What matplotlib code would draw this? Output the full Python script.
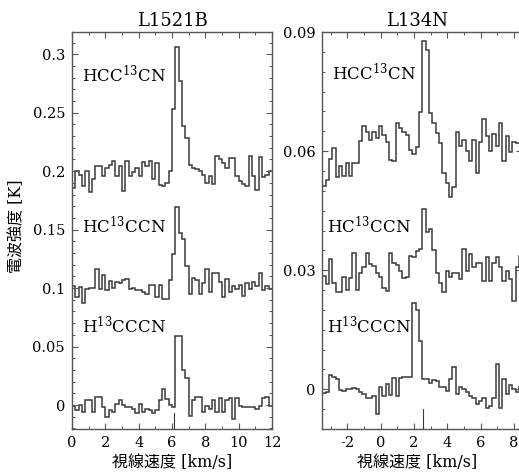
import numpy as np
import matplotlib
matplotlib.use("Agg")
import matplotlib.pyplot as plt
from matplotlib.ticker import FixedLocator, MultipleLocator

plt.rcParams['font.family'] = ['DejaVu Serif', 'Noto Sans CJK JP']
plt.rcParams['mathtext.fontset'] = 'dejavuserif'
plt.rcParams['axes.unicode_minus'] = False

# ---------------- data ----------------
# L1521B : channel edges start at 0 km/s, 0.2 km/s channels
l1521b_v0 = 0.0
l1521b_dv = 0.2
l1521b_hcc13cn = [0.186, 0.200, 0.197, 0.187, 0.200, 0.182, 0.193, 0.204, 0.204, 0.196,
                  0.203, 0.205, 0.209, 0.196, 0.204, 0.183, 0.209, 0.196, 0.199, 0.203,
                  0.196, 0.208, 0.204, 0.209, 0.193, 0.207, 0.188, 0.187, 0.190, 0.200,
                  0.253, 0.306, 0.277, 0.239, 0.228, 0.205, 0.203, 0.202, 0.200, 0.197,
                  0.190, 0.196, 0.189, 0.213, 0.210, 0.207, 0.203, 0.211, 0.211, 0.196,
                  0.192, 0.189, 0.187, 0.213, 0.196, 0.184, 0.212, 0.195, 0.197, 0.200]
l1521b_hc13ccn = [0.102, 0.092, 0.101, 0.087, 0.099, 0.100, 0.100, 0.116, 0.099, 0.111,
                  0.098, 0.106, 0.100, 0.105, 0.104, 0.107, 0.108, 0.099, 0.100, 0.098,
                  0.098, 0.097, 0.095, 0.103, 0.103, 0.092, 0.103, 0.091, 0.091, 0.107,
                  0.129, 0.169, 0.147, 0.142, 0.119, 0.095, 0.109, 0.107, 0.095, 0.104,
                  0.116, 0.097, 0.113, 0.113, 0.105, 0.092, 0.108, 0.097, 0.102, 0.099,
                  0.103, 0.093, 0.104, 0.099, 0.105, 0.102, 0.113, 0.098, 0.102, 0.099]
l1521b_h13cccn = [-0.001, -0.004, 0.000, -0.006, 0.004, 0.004, -0.006, 0.007, 0.007, -0.002,
                  -0.010, -0.004, -0.006, 0.001, 0.004, 0.000, -0.002, -0.002, -0.003, -0.007,
                  0.001, -0.006, -0.003, -0.004, -0.007, -0.004, 0.004, 0.014, 0.005, 0.000,
                  -0.002, 0.059, 0.059, 0.030, 0.023, -0.009, 0.004, 0.007, 0.007, -0.006,
                  -0.001, -0.003, 0.004, -0.006, 0.006, -0.006, 0.004, 0.006, -0.012, 0.006,
                  -0.001, -0.002, -0.002, -0.002, -0.002, -0.003, -0.001, 0.006, 0.007, -0.001]

# L134N : channel edges start at -3.5 km/s, 0.2 km/s channels
l134n_v0 = -3.5
l134n_dv = 0.2
l134n_hcc13cn = [0.0511, 0.0528, 0.0580, 0.0607, 0.0536, 0.0562, 0.0538, 0.0569, 0.0538, 0.0570,
                 0.0570, 0.0625, 0.0662, 0.0647, 0.0628, 0.0647, 0.0634, 0.0662, 0.0640, 0.0623,
                 0.0577, 0.0575, 0.0671, 0.0657, 0.0648, 0.0640, 0.0604, 0.0592, 0.0611, 0.0699,
                 0.0878, 0.0855, 0.0696, 0.0671, 0.0645, 0.0620, 0.0546, 0.0519, 0.0485, 0.0509,
                 0.0647, 0.0614, 0.0628, 0.0600, 0.0575, 0.0628, 0.0546, 0.0623, 0.0681, 0.0638,
                 0.0600, 0.0642, 0.0614, 0.0672, 0.0575, 0.0638, 0.0598, 0.0623, 0.0620, 0.0621]
l134n_hc13ccn = [0.0286, 0.0265, 0.0328, 0.0269, 0.0246, 0.0246, 0.0282, 0.0250, 0.0280, 0.0344,
                 0.0250, 0.0294, 0.0307, 0.0344, 0.0315, 0.0311, 0.0294, 0.0283, 0.0256, 0.0248,
                 0.0344, 0.0319, 0.0313, 0.0298, 0.0280, 0.0282, 0.0336, 0.0332, 0.0349, 0.0353,
                 0.0453, 0.0395, 0.0403, 0.0350, 0.0294, 0.0269, 0.0244, 0.0297, 0.0283, 0.0294,
                 0.0294, 0.0277, 0.0353, 0.0298, 0.0340, 0.0307, 0.0319, 0.0319, 0.0273, 0.0332,
                 0.0273, 0.0319, 0.0332, 0.0307, 0.0273, 0.0297, 0.0277, 0.0223, 0.0307, 0.0336]
l134n_h13cccn_mK = [-1.0, -0.7, 3.5, 3.2, 2.7, -0.2, -0.4, 0.2, 0.2, 0.4,
                    0.0, -0.7, -1.3, -2.3, -2.1, -1.7, -6.3, 0.7, -1.7, 1.3,
                    -1.5, 2.9, -1.7, 2.9, 3.2, 3.2, 3.2, 21.8, 20.1, 12.1,
                    2.7, 2.7, 1.7, 2.3, 2.1, 0.7, 0.7, -0.4, 2.5, 5.7,
                    -1.3, 0.7, 0.0, -0.8, -1.7, -2.3, -3.8, -2.9, -2.3, -4.6,
                    -4.2, -2.1, 6.3, -4.6, 2.7, -1.3, 1.0, 0.2, -0.8, 0.7]

molecules = [r'HCC$^{13}$CN', r'HC$^{13}$CCN', r'H$^{13}$CCCN']
l1521b_label_pos = [(0.58, 0.2765), (0.58, 0.147), (0.58, 0.0614)]
l134n_label_pos = [(-2.9, 0.0778), (-3.24, 0.0393), (-3.24, 0.0142)]

l1521b_vlsr = 6.15
l134n_vlsr = 2.54

l1521b_yticks = [0, 0.05, 0.1, 0.15, 0.2, 0.25, 0.3]
l1521b_yticklabels = ['0', '0.05', '0.1', '0.15', '0.2', '0.25', '0.3']
l134n_yticks = [0, 0.03, 0.06, 0.09]
l134n_yticklabels = ['0', '0.03', '0.06', '0.09']

# ---------------- figure ----------------
W, H = 519, 476
fig = plt.figure(figsize=(W / 100, H / 100), dpi=100)

def px_axes(x0, x1, ytop, ybot):
    return [x0 / W, (H - ybot) / H, (x1 - x0) / W, (ybot - ytop) / H]

axL = fig.add_axes(px_axes(72, 272, 32, 429))
axR = fig.add_axes(px_axes(322.3, 522.3, 32, 429))

line_color = '#3a3a3a'
spine_color = '#555555'

def style(ax):
    for s in ax.spines.values():
        s.set_color(spine_color)
        s.set_linewidth(1.0)
    ax.tick_params(which='both', direction='in', top=True, right=True,
                   color=spine_color, labelsize=10.5)
    ax.tick_params(which='major', length=4, width=0.8)
    ax.tick_params(which='minor', length=2.5, width=0.7)
    ax.tick_params(axis='x', pad=5)
    ax.tick_params(axis='y', pad=5)

def draw(ax, v0, dv, spectra):
    for sp in spectra:
        sp = np.asarray(sp)
        edges = v0 + dv * np.arange(len(sp) + 1)
        ax.stairs(sp, edges, baseline=None, color=line_color, lw=1.1)

# Left panel
draw(axL, l1521b_v0, l1521b_dv, [l1521b_hcc13cn, l1521b_hc13ccn, l1521b_h13cccn])
axL.set_xlim(0, 12)
axL.set_ylim(-0.0205, 0.319)
axL.xaxis.set_major_locator(MultipleLocator(2))
axL.xaxis.set_minor_locator(MultipleLocator(1))
axL.yaxis.set_major_locator(FixedLocator(l1521b_yticks))
axL.set_yticklabels(l1521b_yticklabels)
axL.yaxis.set_minor_locator(MultipleLocator(0.01))
style(axL)
for name, (x, y) in zip(molecules, l1521b_label_pos):
    axL.text(x, y, name, fontsize=12, va='baseline', ha='left')
axL.plot([l1521b_vlsr, l1521b_vlsr], [-0.0205, -0.0068], color=line_color, lw=0.8)
tL = axL.set_title('L1521B', fontsize=13, pad=4)

# Right panel
draw(axR, l134n_v0, l134n_dv, [l134n_hcc13cn, l134n_hc13ccn, np.array(l134n_h13cccn_mK) / 1000.0])
axR.set_xlim(-3.5, 8.5)
axR.set_ylim(-0.01, 0.09)
axR.xaxis.set_major_locator(MultipleLocator(2))
axR.xaxis.set_minor_locator(MultipleLocator(1))
axR.yaxis.set_major_locator(FixedLocator(l134n_yticks))
axR.set_yticklabels(l134n_yticklabels)
axR.yaxis.set_minor_locator(MultipleLocator(0.005))
style(axR)
for name, (x, y) in zip(molecules, l134n_label_pos):
    axR.text(x, y, name, fontsize=12, va='baseline', ha='left')
axR.plot([l134n_vlsr, l134n_vlsr], [-0.01, -0.005], color=line_color, lw=0.8)
tR = axR.set_title('L134N', fontsize=13, pad=4)
tR.set_x(0.476)

# axis labels
xlab = '視線速度 [km/s]'
axL.set_xlabel(xlab, fontsize=11.5, labelpad=3)
axR.set_xlabel(xlab, fontsize=11.5, labelpad=3)
axR.xaxis.label.set_x(0.476)
fig.text(17 / W, 1 - 226 / H, '電波強度 [K]', rotation=90, fontsize=11.5,
         ha='center', va='center')

fig.savefig('out.png', dpi=100)
